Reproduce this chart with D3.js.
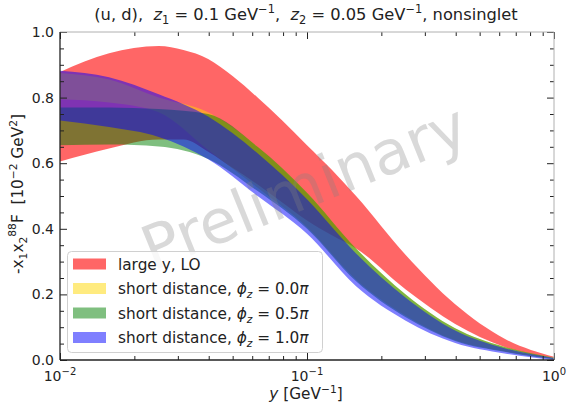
<!DOCTYPE html>
<html><head><meta charset="utf-8">
<script src="https://cdn.jsdelivr.net/npm/d3@7"></script>
<style>
html,body{margin:0;padding:0;background:#fff;}
svg{display:block;font-family:"DejaVu Sans",sans-serif;}
text{white-space:pre;}
</style></head>
<body>
<svg id="c" width="575" height="405"></svg>
<script>
// ---- data ----
const yGrid = [0.01, 0.0158, 0.0251, 0.0398, 0.0631, 0.1, 0.158, 0.251, 0.398, 0.631, 1.0];

const redX     = [0.01, 0.0158, 0.0251, 0.0316, 0.0398, 0.0501, 0.0631, 0.0794, 0.1, 0.126, 0.158, 0.251, 0.398, 0.631, 1.0];
const redUpper = [0.878, 0.935, 0.957, 0.945, 0.918, 0.865, 0.80, 0.73, 0.655, 0.58, 0.50, 0.32, 0.17, 0.065, 0.01];
const redLower = [0.605, 0.645, 0.672, 0.672, 0.635, 0.585, 0.535, 0.48, 0.425, 0.38, 0.34, 0.215, 0.11, 0.04, 0.006];

const yellowUpper = [0.875, 0.855, 0.800, 0.755, 0.650, 0.510, 0.340, 0.200, 0.097, 0.040, 0.007];
const yellowLower = [0.795, 0.785, 0.755, 0.640, 0.525, 0.405, 0.245, 0.135, 0.060, 0.026, 0.002];

const greenUpper = [0.770, 0.770, 0.765, 0.750, 0.650, 0.510, 0.340, 0.200, 0.097, 0.040, 0.007];
const greenLower = [0.655, 0.657, 0.651, 0.613, 0.515, 0.400, 0.240, 0.130, 0.058, 0.025, 0.002];

const blueUpper = [0.882, 0.862, 0.810, 0.742, 0.630, 0.490, 0.325, 0.190, 0.090, 0.036, 0.006];
const blueLower = [0.730, 0.710, 0.680, 0.612, 0.500, 0.385, 0.225, 0.120, 0.052, 0.020, 0.000];

const legendLabels = ["large y, LO", "short distance, ", "short distance, ", "short distance, "];
const phiValues = ["0.0", "0.5", "1.0"];
const yTicks = [0, 0.2, 0.4, 0.6, 0.8, 1.0];
const yMinor = [0.05,0.1,0.15,0.25,0.3,0.35,0.45,0.5,0.55,0.65,0.7,0.75,0.85,0.9,0.95];
const xMajor = [0.01, 0.1, 1];
const xExp = ["−2", "−1", "0"];
const xMinor = [0.02,0.03,0.04,0.05,0.06,0.07,0.08,0.09,0.2,0.3,0.4,0.5,0.6,0.7,0.8,0.9];

// ---- layout ----
const L = 60, R = 554, T = 32, B = 360;
const svg = d3.select("#c");
const x = d3.scaleLog().domain([0.01, 1]).range([L, R]);
const y = d3.scaleLinear().domain([0, 1]).range([B, T]);

const area = d3.area()
  .x(d => x(d.x)).y0(d => y(d.lo)).y1(d => y(d.hi))
  .curve(d3.curveMonotoneX);

function band(xs, hi, lo){ return xs.map((v,i)=>({x:v, hi:hi[i], lo:lo[i]})); }

const bands = [
  {d: band(redX, redUpper, redLower), c: "#ff0000", o: 0.6},
  {d: band(yGrid, yellowUpper, yellowLower), c: "#ffd700", o: 0.5},
  {d: band(yGrid, greenUpper, greenLower), c: "#008000", o: 0.5},
  {d: band(yGrid, blueUpper, blueLower), c: "#0000ff", o: 0.5}
];

svg.append("clipPath").attr("id","pc").append("rect")
  .attr("x", L).attr("y", T).attr("width", R-L).attr("height", B-T);

const gB = svg.append("g").attr("clip-path","url(#pc)");
bands.forEach(b => {
  gB.append("path").attr("d", area(b.d)).attr("fill", b.c).attr("fill-opacity", b.o);
});

// watermark
svg.append("text")
  .attr("transform", "translate(306,191) rotate(-22)")
  .attr("text-anchor","middle").attr("dominant-baseline","middle")
  .attr("font-size", 61).attr("fill", "#808080").attr("fill-opacity", 0.3)
  .text("Preliminary");

// ---- axes ----
function styleAxis(g){ g.select(".domain").remove(); g.selectAll("line").attr("stroke","#222"); }
svg.append("g").attr("transform",`translate(0,${B})`)
  .call(d3.axisBottom(x).tickValues(xMajor).tickSizeInner(-7).tickSizeOuter(0).tickFormat(""))
  .call(styleAxis);
svg.append("g").attr("transform",`translate(0,${B})`)
  .call(d3.axisBottom(x).tickValues(xMinor).tickSizeInner(-4).tickSizeOuter(0).tickFormat(""))
  .call(styleAxis);
svg.append("g").attr("transform",`translate(0,${T})`)
  .call(d3.axisTop(x).tickValues(xMajor).tickSizeInner(-7).tickSizeOuter(0).tickFormat(""))
  .call(styleAxis);
svg.append("g").attr("transform",`translate(0,${T})`)
  .call(d3.axisTop(x).tickValues(xMinor).tickSizeInner(-4).tickSizeOuter(0).tickFormat(""))
  .call(styleAxis);
svg.append("g").attr("transform",`translate(${L},0)`)
  .call(d3.axisLeft(y).tickValues(yTicks).tickSizeInner(-7).tickSizeOuter(0).tickFormat(""))
  .call(styleAxis);
svg.append("g").attr("transform",`translate(${L},0)`)
  .call(d3.axisLeft(y).tickValues(yMinor).tickSizeInner(-4).tickSizeOuter(0).tickFormat(""))
  .call(styleAxis);
svg.append("g").attr("transform",`translate(${R},0)`)
  .call(d3.axisRight(y).tickValues(yTicks).tickSizeInner(-7).tickSizeOuter(0).tickFormat(""))
  .call(styleAxis);
svg.append("g").attr("transform",`translate(${R},0)`)
  .call(d3.axisRight(y).tickValues(yMinor).tickSizeInner(-4).tickSizeOuter(0).tickFormat(""))
  .call(styleAxis);

// spines
svg.append("line").attr("x1",L).attr("x2",R).attr("y1",T).attr("y2",T).attr("stroke","#b0b0b0").attr("stroke-width",1);
svg.append("line").attr("x1",R).attr("x2",R).attr("y1",T).attr("y2",B).attr("stroke","#b0b0b0").attr("stroke-width",1);
svg.append("line").attr("x1",L).attr("x2",R).attr("y1",B).attr("y2",B).attr("stroke","#222").attr("stroke-width",1.3);
svg.append("line").attr("x1",L).attr("x2",L).attr("y1",T).attr("y2",B).attr("stroke","#222").attr("stroke-width",1.3);

// tick labels
svg.append("g").selectAll("text").data(yTicks).join("text")
  .attr("x", L-6).attr("y", d => y(d)).attr("dy","0.36em")
  .attr("text-anchor","end").attr("font-size",14).attr("fill","#222")
  .text(d => d.toFixed(1));

const xl = svg.append("g").selectAll("text").data(xMajor).join("text")
  .attr("x", d => x(d)).attr("y", B+21)
  .attr("text-anchor","middle").attr("font-size",14).attr("fill","#222");
xl.append("tspan").text("10");
xl.append("tspan").attr("font-size",10).attr("dy",-6).text((d,i)=>xExp[i]);

// axis labels
const xlab = svg.append("text").attr("x", 306).attr("y", 399)
  .attr("text-anchor","middle").attr("font-size",15.3).attr("fill","#222");
xlab.append("tspan").attr("font-style","italic").text("y");
xlab.append("tspan").text(" [GeV");
xlab.append("tspan").attr("font-size",10.7).attr("dy",-6).text("−1");
xlab.append("tspan").attr("dy",6).text("]");

const ylab = svg.append("text").attr("transform","translate(23,194) rotate(-90)")
  .attr("text-anchor","middle").attr("font-size",15.3).attr("fill","#222");
ylab.append("tspan").text("-x");
ylab.append("tspan").attr("font-size",10.7).attr("dy",4).text("1");
ylab.append("tspan").attr("dy",-4).text("x");
ylab.append("tspan").attr("font-size",10.7).attr("dy",4).text("2");
ylab.append("tspan").attr("font-size",10.7).attr("dy",-11).text("88");
ylab.append("tspan").attr("dy",7).text("F  [10");
ylab.append("tspan").attr("font-size",10.7).attr("dy",-6).text("−2");
ylab.append("tspan").attr("dy",6).text(" GeV");
ylab.append("tspan").attr("font-size",10.7).attr("dy",-6).text("2");
ylab.append("tspan").attr("dy",6).text("]");

// title
const tt = svg.append("text").attr("x", 306).attr("y", 20)
  .attr("text-anchor","middle").attr("font-size",16.3).attr("fill","#222");
tt.append("tspan").text("(u, d),  ");
tt.append("tspan").attr("font-style","italic").text("z");
tt.append("tspan").attr("font-size",11.4).attr("dy",4).text("1");
tt.append("tspan").attr("dy",-4).text(" = 0.1 GeV");
tt.append("tspan").attr("font-size",11.4).attr("dy",-7).text("−1");
tt.append("tspan").attr("dy",7).text(",  ");
tt.append("tspan").attr("font-style","italic").text("z");
tt.append("tspan").attr("font-size",11.4).attr("dy",4).text("2");
tt.append("tspan").attr("dy",-4).text(" = 0.05 GeV");
tt.append("tspan").attr("font-size",11.4).attr("dy",-7).text("−1");
tt.append("tspan").attr("dy",7).text(", nonsinglet");

// legend
const lg = svg.append("g");
lg.append("rect").attr("x",67.5).attr("y",251.5).attr("width",255).attr("height",101).attr("rx",4)
  .attr("fill","#fff").attr("fill-opacity",0.8).attr("stroke","#d0d0d0");
bands.forEach((b,i) => {
  const cy = 264 + i*24.5;
  lg.append("rect").attr("x",73).attr("y",cy-5.5).attr("width",33).attr("height",11)
    .attr("fill", b.c).attr("fill-opacity", b.o);
  const t = lg.append("text").attr("x",118).attr("y",cy).attr("dy","0.36em")
    .attr("font-size",15.3).attr("fill","#222");
  t.append("tspan").text(legendLabels[i]);
  if (i > 0) {
    t.append("tspan").attr("font-style","italic").text("ϕ");
    t.append("tspan").attr("font-size",10.7).attr("font-style","italic").attr("dy",4).text("z");
    t.append("tspan").attr("dy",-4).text(" = " + phiValues[i-1]);
    t.append("tspan").attr("font-style","italic").text("π");
  }
});
</script>
</body></html>
